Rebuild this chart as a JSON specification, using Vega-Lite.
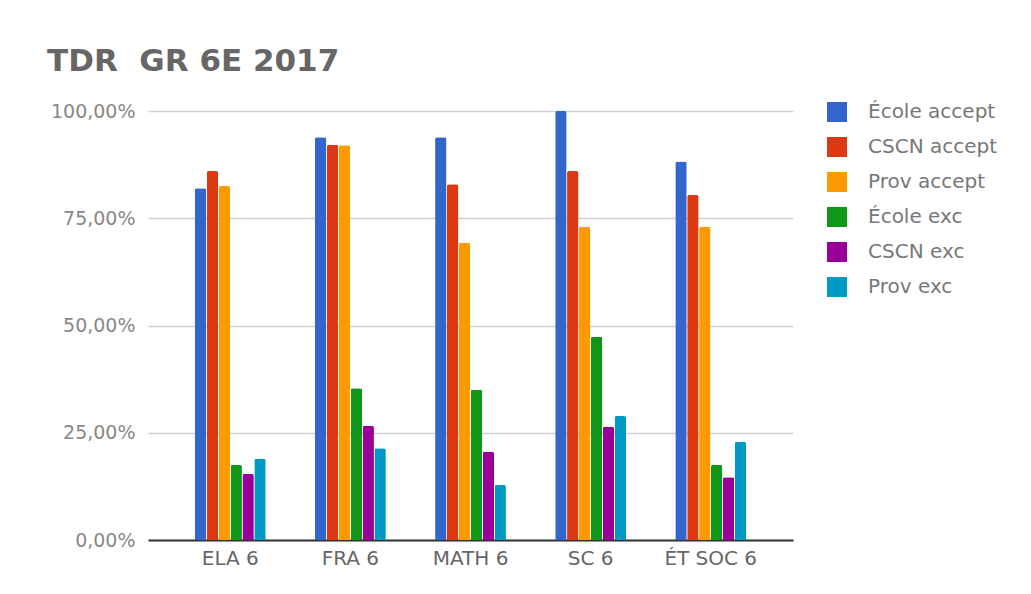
{
  "$schema": "https://vega.github.io/schema/vega-lite/v6.json",
  "width": 645,
  "height": 429,
  "autosize": {"type": "none"},
  "padding": {"left": 148, "top": 111, "right": 238, "bottom": 54},
  "background": "white",
  "title": {
    "text": "TDR \u00a0GR 6E 2017",
    "anchor": "start",
    "frame": "group",
    "dx": -101,
    "offset": 24,
    "font": "DejaVu Sans",
    "fontSize": 31,
    "fontWeight": "bold",
    "color": "#666666"
  },
  "data": {
    "values": [
      {"matiere": "ELA 6", "serie": "École accept", "valeur": 0.82},
      {"matiere": "ELA 6", "serie": "CSCN accept", "valeur": 0.86},
      {"matiere": "ELA 6", "serie": "Prov accept", "valeur": 0.825},
      {"matiere": "ELA 6", "serie": "École exc", "valeur": 0.175},
      {"matiere": "ELA 6", "serie": "CSCN exc", "valeur": 0.154},
      {"matiere": "ELA 6", "serie": "Prov exc", "valeur": 0.189},
      {"matiere": "FRA 6", "serie": "École accept", "valeur": 0.939},
      {"matiere": "FRA 6", "serie": "CSCN accept", "valeur": 0.921},
      {"matiere": "FRA 6", "serie": "Prov accept", "valeur": 0.92},
      {"matiere": "FRA 6", "serie": "École exc", "valeur": 0.354},
      {"matiere": "FRA 6", "serie": "CSCN exc", "valeur": 0.266},
      {"matiere": "FRA 6", "serie": "Prov exc", "valeur": 0.214},
      {"matiere": "MATH 6", "serie": "École accept", "valeur": 0.939},
      {"matiere": "MATH 6", "serie": "CSCN accept", "valeur": 0.829},
      {"matiere": "MATH 6", "serie": "Prov accept", "valeur": 0.693},
      {"matiere": "MATH 6", "serie": "École exc", "valeur": 0.35},
      {"matiere": "MATH 6", "serie": "CSCN exc", "valeur": 0.206},
      {"matiere": "MATH 6", "serie": "Prov exc", "valeur": 0.128},
      {"matiere": "SC 6", "serie": "École accept", "valeur": 1.0},
      {"matiere": "SC 6", "serie": "CSCN accept", "valeur": 0.86},
      {"matiere": "SC 6", "serie": "Prov accept", "valeur": 0.73},
      {"matiere": "SC 6", "serie": "École exc", "valeur": 0.474},
      {"matiere": "SC 6", "serie": "CSCN exc", "valeur": 0.264},
      {"matiere": "SC 6", "serie": "Prov exc", "valeur": 0.289},
      {"matiere": "ÉT SOC 6", "serie": "École accept", "valeur": 0.882},
      {"matiere": "ÉT SOC 6", "serie": "CSCN accept", "valeur": 0.804},
      {"matiere": "ÉT SOC 6", "serie": "Prov accept", "valeur": 0.73},
      {"matiere": "ÉT SOC 6", "serie": "École exc", "valeur": 0.175},
      {"matiere": "ÉT SOC 6", "serie": "CSCN exc", "valeur": 0.146},
      {"matiere": "ÉT SOC 6", "serie": "Prov exc", "valeur": 0.229}
    ]
  },
  "mark": {"type": "bar", "cornerRadiusTopLeft": 2, "cornerRadiusTopRight": 2},
  "encoding": {
    "x": {
      "field": "matiere",
      "type": "nominal",
      "sort": ["ELA 6", "FRA 6", "MATH 6", "SC 6", "ÉT SOC 6"],
      "scale": {"paddingInner": 0.41, "paddingOuter": 0.39},
      "axis": {
        "title": null,
        "labelAngle": 0,
        "labelFont": "DejaVu Sans",
        "labelFontSize": 20,
        "labelColor": "#666666",
        "labelPadding": 8,
        "ticks": false,
        "domainColor": "#333333",
        "domainWidth": 2,
        "grid": false
      }
    },
    "xOffset": {
      "field": "serie",
      "type": "nominal",
      "sort": ["École accept", "CSCN accept", "Prov accept", "École exc", "CSCN exc", "Prov exc"],
      "scale": {"paddingInner": 0.04}
    },
    "y": {
      "field": "valeur",
      "type": "quantitative",
      "scale": {"domain": [0, 1]},
      "axis": {
        "title": null,
        "values": [0, 0.25, 0.5, 0.75, 1],
        "labelExpr": "replace(format(datum.value, '.2%'), '.', ',')",
        "labelFont": "DejaVu Sans",
        "labelFontSize": 19,
        "labelColor": "#888888",
        "labelPadding": 13,
        "ticks": false,
        "domain": false,
        "gridColor": "#d0d0d0",
        "gridWidth": 1.5
      }
    },
    "color": {
      "field": "serie",
      "type": "nominal",
      "sort": ["École accept", "CSCN accept", "Prov accept", "École exc", "CSCN exc", "Prov exc"],
      "scale": {
        "domain": ["École accept", "CSCN accept", "Prov accept", "École exc", "CSCN exc", "Prov exc"],
        "range": ["#3366cc", "#dc3912", "#ff9900", "#109618", "#990099", "#0099c6"]
      },
      "legend": {
        "title": null,
        "orient": "none",
        "legendX": 679,
        "legendY": -9,
        "symbolType": "square",
        "symbolSize": 400,
        "symbolStrokeWidth": 0,
        "labelFont": "DejaVu Sans",
        "labelFontSize": 20,
        "labelColor": "#777777",
        "labelOffset": 21,
        "rowPadding": 15
      }
    }
  },
  "config": {
    "view": {"stroke": null}
  }
}
